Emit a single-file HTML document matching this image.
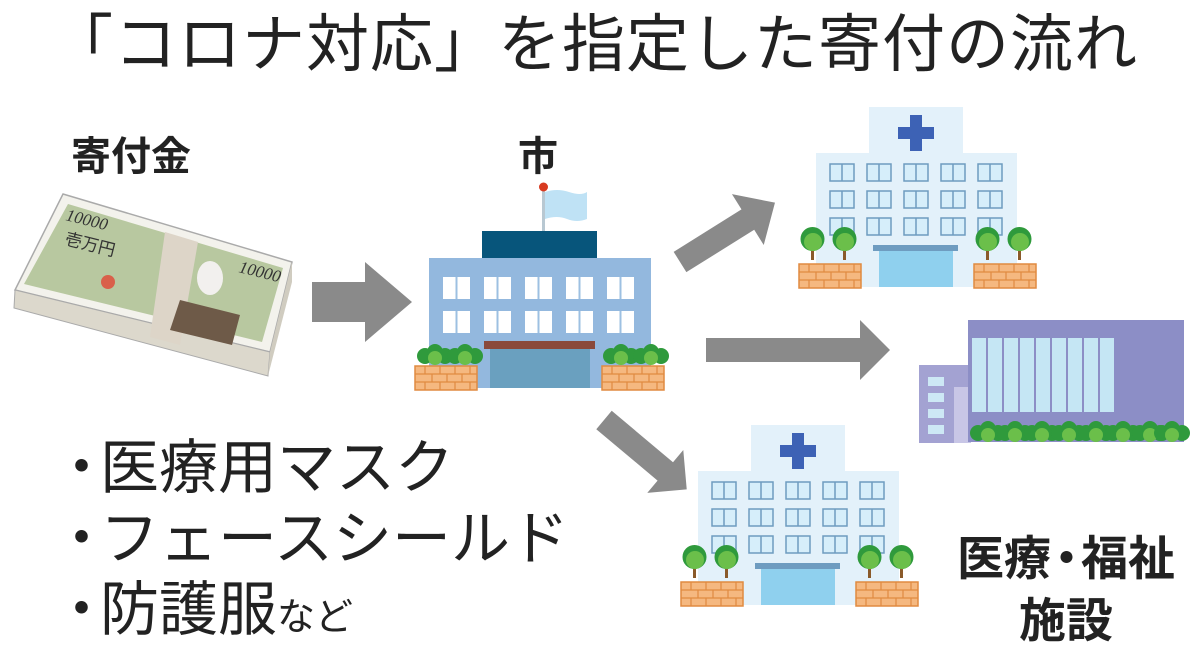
<!DOCTYPE html>
<html><head><meta charset="utf-8"><style>
body{margin:0;width:1200px;height:654px;background:#fff;overflow:hidden;position:relative;font-family:"Liberation Sans","Noto Sans CJK JP",sans-serif;color:#222}
.t{position:absolute;white-space:nowrap}
svg{position:absolute;left:0;top:0}
.d{display:inline-block;width:34px;position:relative;left:-14px;font-family:"Noto Sans CJK JP",sans-serif}
</style></head><body>
<svg width="1200" height="654" viewBox="0 0 1200 654">
<defs>
<g id="bush"><circle cx="8" cy="10" r="8" fill="#2f9a3c"/><circle cx="18" cy="6" r="8" fill="#2f9a3c"/><circle cx="28" cy="10" r="8" fill="#2f9a3c"/><circle cx="18" cy="12" r="7" fill="#6bbf4a"/></g>
<g id="wall"><rect width="62" height="24" fill="#f5b880" stroke="#e08a40" stroke-width="1.5"/><path d="M0 8H62M0 16H62M10 0V8M25 0V8M40 0V8M55 0V8M17 8V16M32 8V16M47 8V16M10 16V24M25 16V24M40 16V24M55 16V24" stroke="#e08a40" stroke-width="1.2"/></g>
<g id="tree"><rect x="11" y="26" width="3" height="12" fill="#8a5a2a"/><circle cx="12.5" cy="17" r="12" fill="#2f9a3c"/><circle cx="13" cy="20" r="9" fill="#6bbf4a"/></g>
<g id="hwin"><rect width="24" height="17" fill="#d6eefa" stroke="#6e9cc0" stroke-width="1.5"/><path d="M12 0V17" stroke="#6e9cc0" stroke-width="1.5"/></g>
<g id="hosp">
<rect x="869" y="107" width="94" height="48" fill="#e3f1fa"/>
<rect x="816" y="153" width="201" height="134" fill="#e3f1fa"/>
<path d="M910 115h12v12h12v12h-12v12h-12v-12h-12v-12h12z" fill="#3d62b5"/>
<use href="#hwin" x="830" y="164"/><use href="#hwin" x="867" y="164"/><use href="#hwin" x="904" y="164"/><use href="#hwin" x="941" y="164"/><use href="#hwin" x="978" y="164"/>
<use href="#hwin" x="830" y="191"/><use href="#hwin" x="867" y="191"/><use href="#hwin" x="904" y="191"/><use href="#hwin" x="941" y="191"/><use href="#hwin" x="978" y="191"/>
<use href="#hwin" x="830" y="218"/><use href="#hwin" x="867" y="218"/><use href="#hwin" x="904" y="218"/><use href="#hwin" x="941" y="218"/><use href="#hwin" x="978" y="218"/>
<rect x="873" y="245" width="85" height="6" fill="#6e9cc0"/>
<rect x="879" y="251" width="74" height="36" fill="#8fd0ee"/>
<use href="#tree" x="800" y="222"/><use href="#tree" x="832" y="222"/>
<use href="#tree" x="975" y="222"/><use href="#tree" x="1007" y="222"/>
<use href="#wall" x="799" y="264"/><use href="#wall" x="974" y="264"/>
</g>
<g id="cwin"><rect width="27" height="22" fill="#fff"/><path d="M13.5 0V22" stroke="#9dc0e2" stroke-width="2"/></g>
</defs>

<polygon points="63,194 292,262 270,352 15,290" fill="#f3f2ec" stroke="#aaa" stroke-width="1.5"/>
<polygon points="15,290 270,352 268,376 14,308" fill="#dcd8cc" stroke="#aaa" stroke-width="1"/>
<polygon points="270,352 292,262 292,282 268,376" fill="#d0ccc0"/>
<polygon points="68,204 283,268 262,342 24,284" fill="#b8c8a0"/>
<polygon points="165,232 198,242 180,345 150,337" fill="#ddd5c8"/>
<ellipse cx="210" cy="278" rx="13" ry="17" fill="#f2f0ee"/>
<polygon points="180,300 240,315 232,345 170,330" fill="#6e5a48"/>
<text x="65" y="220" font-size="17" font-family="Liberation Serif" font-style="italic" fill="#333" transform="rotate(14 65 220)">10000</text>
<text x="238" y="272" font-size="17" font-family="Liberation Serif" font-style="italic" fill="#333" transform="rotate(14 238 272)">10000</text>
<text x="64" y="244" font-size="17" fill="#333" transform="rotate(14 64 244)" font-family="Noto Sans CJK JP">壱万円</text>
<circle cx="108" cy="282" r="7" fill="#d9604a"/>

<polygon points="312,282 365,282 365,262 412,302 365,342 365,322 312,322" fill="#8a8a8a"/>
<polygon points="706,338 860,338 860,320 890,350 860,380 860,362 706,362" fill="#8a8a8a"/>
<g transform="translate(680,262) rotate(-32)"><polygon points="0,-12 80,-12 80,-30 112,0 80,30 80,12 0,12" fill="#8a8a8a"/></g>
<g transform="translate(604,420) rotate(40)"><polygon points="0,-12 80,-12 80,-28 108,0 80,28 80,12 0,12" fill="#8a8a8a"/></g>

<rect x="542" y="190" width="3" height="42" fill="#b8c8d2"/>
<circle cx="543.5" cy="187" r="4.5" fill="#d83a20"/>
<path d="M545 192q12 -4 24 0t18 0v27q-10 4 -20 0t-22 0z" fill="#bfe2f5"/>
<rect x="482" y="231" width="115" height="28" fill="#07557b"/>
<rect x="429" y="258" width="222" height="130" fill="#93b8de"/>
<use href="#cwin" x="443" y="277"/><use href="#cwin" x="484" y="277"/><use href="#cwin" x="525" y="277"/><use href="#cwin" x="566" y="277"/><use href="#cwin" x="607" y="277"/>
<use href="#cwin" x="443" y="311"/><use href="#cwin" x="484" y="311"/><use href="#cwin" x="525" y="311"/><use href="#cwin" x="566" y="311"/><use href="#cwin" x="607" y="311"/>
<rect x="484" y="341" width="111" height="8" fill="#8a4a3c"/>
<rect x="490" y="349" width="100" height="39" fill="#6aa0bf"/>
<use href="#bush" x="417" y="346"/><use href="#bush" x="447" y="346"/>
<use href="#bush" x="603" y="346"/><use href="#bush" x="633" y="346"/>
<use href="#wall" x="415" y="366"/><use href="#wall" x="602" y="366"/>

<use href="#hosp"/>
<use href="#hosp" x="-118" y="318"/>

<rect x="919" y="365" width="52" height="78" fill="#a3a2d2"/>
<rect x="954" y="387" width="17" height="56" fill="#c8c6e6"/>
<rect x="928" y="377" width="16" height="9" fill="#cde8f5"/><rect x="928" y="393" width="16" height="9" fill="#cde8f5"/><rect x="928" y="409" width="16" height="9" fill="#cde8f5"/><rect x="928" y="425" width="16" height="9" fill="#cde8f5"/>
<rect x="968" y="320" width="216" height="122" fill="#8c8ec6"/>
<g fill="#c5e6f4">
<rect x="972" y="338" width="14" height="74"/><rect x="988" y="338" width="14" height="74"/><rect x="1004" y="338" width="14" height="74"/><rect x="1020" y="338" width="14" height="74"/><rect x="1036" y="338" width="14" height="74"/><rect x="1052" y="338" width="14" height="74"/><rect x="1068" y="338" width="14" height="74"/><rect x="1084" y="338" width="14" height="74"/><rect x="1100" y="338" width="14" height="74"/>
</g>
<use href="#bush" x="970" y="423"/><use href="#bush" x="997" y="423"/><use href="#bush" x="1024" y="423"/><use href="#bush" x="1051" y="423"/><use href="#bush" x="1078" y="423"/><use href="#bush" x="1105" y="423"/><use href="#bush" x="1132" y="423"/><use href="#bush" x="1154" y="423"/>
</svg>

<div class="t" style="left:50px;top:12px;font-size:63px;line-height:66px;letter-spacing:1px">「コロナ対応」を指定した寄付の流れ</div>
<div class="t" style="left:71px;top:124px;font-size:40px;font-weight:bold">寄付金</div>
<div class="t" style="left:518px;top:124px;font-size:40px;font-weight:bold">市</div>
<div class="t" style="left:66px;top:430px;font-size:59px;line-height:66px"><span class="d">・</span>医療用マスク<br><span class="d">・</span>フェースシールド<br><span class="d">・</span>防護服<span style="font-size:38px">など</span></div>
<div class="t" style="left:944px;top:524px;font-size:47px;font-weight:bold;line-height:62px;width:244px;text-align:center">医療<span style="display:inline-block;width:30px;font-family:'Noto Sans CJK JP',sans-serif;position:relative;left:-8px">・</span>福祉<br>施設</div>
</body></html>
